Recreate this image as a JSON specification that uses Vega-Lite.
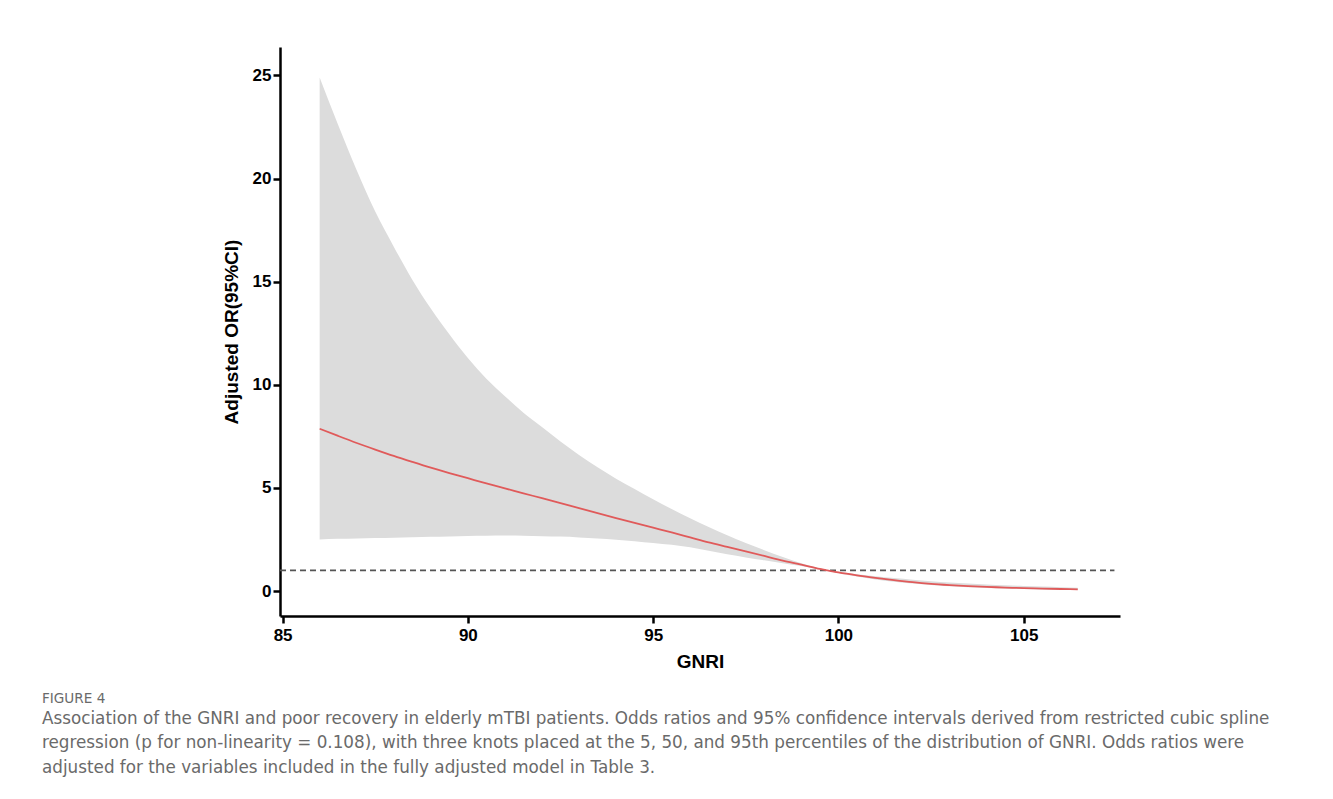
{
  "$schema": "https://vega.github.io/schema/vega-lite/v6.json",
  "width": 840,
  "height": 569,
  "autosize": {"type": "none"},
  "padding": {"left": 280, "top": 47, "right": 213, "bottom": 183},
  "background": "white",
  "title": {
    "text": "FIGURE 4",
    "subtitle": [
      "Association of the GNRI and poor recovery in elderly mTBI patients. Odds ratios and 95% confidence intervals derived from restricted cubic spline",
      "regression (p for non-linearity = 0.108), with three knots placed at the 5, 50, and 95th percentiles of the distribution of GNRI. Odds ratios were",
      "adjusted for the variables included in the fully adjusted model in Table 3."
    ],
    "orient": "bottom",
    "anchor": "start",
    "frame": "group",
    "dx": -238,
    "offset": 21,
    "font": "DejaVu Sans",
    "fontSize": 13.6,
    "fontWeight": 400,
    "color": "#6a6a6a",
    "subtitleFont": "DejaVu Sans",
    "subtitleFontSize": 16.8,
    "subtitleFontWeight": 400,
    "subtitleColor": "#6a6a6a",
    "subtitleLineHeight": 24.5,
    "subtitlePadding": 5
  },
  "datasets": {
    "curve": [
      {"gnri": 86.0, "or": 7.87, "lo": 2.50, "hi": 24.9},
      {"gnri": 86.5, "or": 7.52, "lo": 2.53, "hi": 22.6},
      {"gnri": 87.0, "or": 7.18, "lo": 2.55, "hi": 20.4},
      {"gnri": 87.5, "or": 6.86, "lo": 2.57, "hi": 18.4},
      {"gnri": 88.0, "or": 6.55, "lo": 2.59, "hi": 16.7},
      {"gnri": 88.5, "or": 6.26, "lo": 2.61, "hi": 15.1},
      {"gnri": 89.0, "or": 5.98, "lo": 2.63, "hi": 13.7},
      {"gnri": 89.5, "or": 5.72, "lo": 2.65, "hi": 12.45},
      {"gnri": 90.0, "or": 5.47, "lo": 2.67, "hi": 11.3},
      {"gnri": 90.5, "or": 5.22, "lo": 2.68, "hi": 10.3},
      {"gnri": 91.0, "or": 4.98, "lo": 2.69, "hi": 9.45},
      {"gnri": 91.5, "or": 4.74, "lo": 2.68, "hi": 8.65},
      {"gnri": 92.0, "or": 4.50, "lo": 2.66, "hi": 7.95},
      {"gnri": 92.5, "or": 4.26, "lo": 2.64, "hi": 7.25},
      {"gnri": 93.0, "or": 4.02, "lo": 2.60, "hi": 6.6},
      {"gnri": 93.5, "or": 3.78, "lo": 2.55, "hi": 6.0},
      {"gnri": 94.0, "or": 3.54, "lo": 2.49, "hi": 5.45},
      {"gnri": 94.5, "or": 3.30, "lo": 2.42, "hi": 4.95},
      {"gnri": 95.0, "or": 3.07, "lo": 2.33, "hi": 4.45},
      {"gnri": 95.5, "or": 2.84, "lo": 2.24, "hi": 3.98},
      {"gnri": 96.0, "or": 2.60, "lo": 2.12, "hi": 3.53},
      {"gnri": 96.5, "or": 2.36, "lo": 1.95, "hi": 3.1},
      {"gnri": 97.0, "or": 2.14, "lo": 1.78, "hi": 2.7},
      {"gnri": 97.5, "or": 1.92, "lo": 1.63, "hi": 2.33},
      {"gnri": 98.0, "or": 1.70, "lo": 1.49, "hi": 1.98},
      {"gnri": 98.5, "or": 1.48, "lo": 1.35, "hi": 1.65},
      {"gnri": 99.0, "or": 1.28, "lo": 1.21, "hi": 1.35},
      {"gnri": 99.5, "or": 1.07, "lo": 1.05, "hi": 1.10},
      {"gnri": 99.7, "or": 1.0, "lo": 1.0, "hi": 1.0},
      {"gnri": 100.0, "or": 0.90, "lo": 0.86, "hi": 0.93},
      {"gnri": 100.5, "or": 0.76, "lo": 0.70, "hi": 0.82},
      {"gnri": 101.0, "or": 0.64, "lo": 0.56, "hi": 0.72},
      {"gnri": 101.5, "or": 0.53, "lo": 0.45, "hi": 0.63},
      {"gnri": 102.0, "or": 0.43, "lo": 0.36, "hi": 0.55},
      {"gnri": 102.5, "or": 0.35, "lo": 0.29, "hi": 0.48},
      {"gnri": 103.0, "or": 0.29, "lo": 0.23, "hi": 0.42},
      {"gnri": 103.5, "or": 0.24, "lo": 0.18, "hi": 0.37},
      {"gnri": 104.0, "or": 0.20, "lo": 0.15, "hi": 0.32},
      {"gnri": 104.5, "or": 0.17, "lo": 0.12, "hi": 0.28},
      {"gnri": 105.0, "or": 0.14, "lo": 0.10, "hi": 0.25},
      {"gnri": 105.5, "or": 0.12, "lo": 0.08, "hi": 0.22},
      {"gnri": 106.0, "or": 0.10, "lo": 0.06, "hi": 0.19},
      {"gnri": 106.46, "or": 0.08, "lo": 0.05, "hi": 0.16}
    ],
    "ref": [
      {"x1": 84.93, "x2": 107.45, "y": 1}
    ]
  },
  "layer": [
    {
      "data": {"name": "curve"},
      "mark": {"type": "area", "color": "#dcdcdc", "opacity": 1, "interpolate": "monotone"},
      "encoding": {
        "x": {"field": "gnri", "type": "quantitative"},
        "y": {"field": "lo", "type": "quantitative"},
        "y2": {"field": "hi"}
      }
    },
    {
      "data": {"name": "ref"},
      "mark": {"type": "rule", "color": "#555555", "strokeWidth": 1.8, "strokeDash": [6, 4]},
      "encoding": {
        "x": {"field": "x1", "type": "quantitative"},
        "x2": {"field": "x2"},
        "y": {"field": "y", "type": "quantitative"}
      }
    },
    {
      "data": {"name": "curve"},
      "mark": {"type": "line", "color": "#e05a5a", "strokeWidth": 1.8, "interpolate": "monotone"},
      "encoding": {
        "x": {
          "field": "gnri", "type": "quantitative",
          "scale": {"domain": [84.93, 107.6], "nice": false, "zero": false},
          "axis": {"title": "GNRI", "values": [85, 90, 95, 100, 105], "labelPadding": 4, "titlePadding": 9}
        },
        "y": {
          "field": "or", "type": "quantitative",
          "scale": {"domain": [-1.21, 26.38], "nice": false, "zero": false},
          "axis": {"title": "Adjusted OR(95%CI)", "values": [0, 5, 10, 15, 20, 25], "labelPadding": 2, "titlePadding": 11}
        }
      }
    }
  ],
  "config": {
    "view": {"stroke": null},
    "axis": {
      "grid": false,
      "domainColor": "#000000",
      "domainWidth": 2.5,
      "tickColor": "#000000",
      "tickWidth": 2.5,
      "tickSize": 7,
      "labelFont": "Liberation Sans",
      "labelFontWeight": "bold",
      "labelFontSize": 17,
      "labelColor": "#000000",
      "titleFont": "Liberation Sans",
      "titleFontWeight": "bold",
      "titleFontSize": 19,
      "titleColor": "#000000"
    }
  }
}
